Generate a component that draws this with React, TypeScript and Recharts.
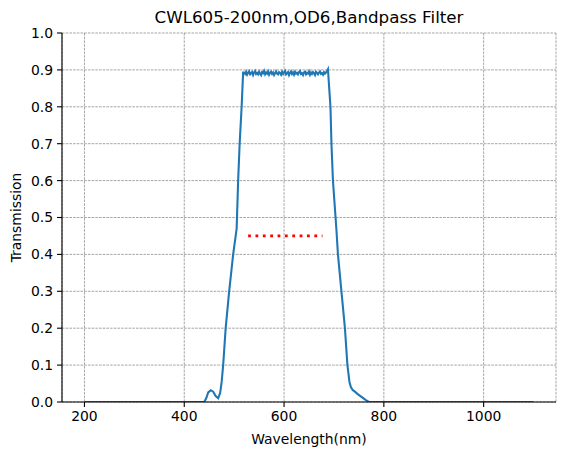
import React from "react";
import { LineChart, Line, XAxis, YAxis, CartesianGrid, Label } from "recharts";

const edgeWavelengths = [200, 440, 444, 448, 453, 458, 463, 468, 472, 475, 478, 483, 490, 498, 505, 508, 511, 515, 518];
const edgeValues = [0, 0, 0.01, 0.026, 0.032, 0.028, 0.016, 0.01, 0.025, 0.055, 0.1, 0.2, 0.3, 0.4, 0.47, 0.6, 0.7, 0.8, 0.893];

const plateauWavelengths = [
  520, 522, 524, 526, 528, 530, 532, 534, 536, 538, 540, 542, 544, 546, 548, 550, 552, 554, 556, 558,
  560, 562, 564, 566, 568, 570, 572, 574, 576, 578, 580, 582, 584, 586, 588, 590, 592, 594, 596, 598,
  600, 602, 604, 606, 608, 610, 612, 614, 616, 618, 620, 622, 624, 626, 628, 630, 632, 634, 636, 638,
  640, 642, 644, 646, 648, 650, 652, 654, 656, 658, 660, 662, 664, 666, 668, 670, 672, 674, 676, 678,
  680, 682, 684, 686, 688,
];
const plateauValues = [
  0.893, 0.889, 0.895, 0.887, 0.892, 0.896, 0.888, 0.891, 0.894, 0.886,
  0.893, 0.897, 0.889, 0.892, 0.888, 0.895, 0.89, 0.886, 0.894, 0.891,
  0.897, 0.888, 0.893, 0.89, 0.896, 0.887, 0.892, 0.895, 0.889, 0.893,
  0.886, 0.891, 0.896, 0.89, 0.888, 0.894, 0.892, 0.887, 0.895, 0.889,
  0.893, 0.897, 0.888, 0.891, 0.894, 0.886, 0.892, 0.896, 0.889, 0.893,
  0.887, 0.895, 0.89, 0.892, 0.888, 0.894, 0.897, 0.889, 0.891, 0.886,
  0.893, 0.895, 0.888, 0.892, 0.89, 0.896, 0.887, 0.893, 0.889, 0.894,
  0.891, 0.886, 0.895, 0.892, 0.888, 0.893, 0.896, 0.889, 0.891, 0.887,
  0.894, 0.89, 0.893, 0.897, 0.902,
];

const fallWavelengths = [690, 693, 695, 698, 705, 708, 715, 722, 727, 731, 734, 738, 742, 747, 753, 758, 764, 770, 1100];
const fallValues = [0.86, 0.8, 0.7, 0.6, 0.466, 0.4, 0.3, 0.2, 0.1, 0.055, 0.04, 0.032, 0.028, 0.022, 0.016, 0.011, 0.005, 0, 0];

const markerWavelengths = [528, 677];
const markerValues = [0.45, 0.45];

const xTicks = [200, 400, 600, 800, 1000];
const yTicks = [0, 0.1, 0.2, 0.3, 0.4, 0.5, 0.6, 0.7, 0.8, 0.9, 1.0];

const allWavelengths = [...edgeWavelengths, ...plateauWavelengths, ...fallWavelengths];
const allValues = [...edgeValues, ...plateauValues, ...fallValues];
const curveData = allWavelengths.map((w, i) => ({ w, t: allValues[i] }));
const markerData = markerWavelengths.map((w, i) => ({ w, t: markerValues[i] }));

const FONT = "'DejaVu Sans', sans-serif";
const tickStyle = { fontFamily: FONT, fontSize: 13.9, fill: "#000" };

const YLabel = () => (
  <text
    x={21}
    y={217.5}
    transform="rotate(-90 21 217.5)"
    textAnchor="middle"
    fontFamily={FONT}
    fontSize={13.9}
    fill="#000"
  >
    Transmission
  </text>
);

export default function App() {
  return (
    <div style={{ position: "absolute", left: 0, top: 0, width: 567, height: 455, background: "#fff" }}>
      <div
        style={{
          position: "absolute",
          left: 62,
          width: 494,
          top: 7,
          textAlign: "center",
          fontFamily: FONT,
          fontSize: 16.7,
          lineHeight: "20px",
          color: "#000",
        }}
      >
        CWL605-200nm,OD6,Bandpass Filter
      </div>
      <LineChart
        width={567}
        height={455}
        data={curveData}
        margin={{ top: 33, right: 11, left: 0, bottom: 0 }}
      >
        <CartesianGrid stroke="#808080" strokeWidth={0.7} strokeDasharray="2.6 1.1" />
        <XAxis
          dataKey="w"
          type="number"
          domain={[155, 1145]}
          ticks={xTicks}
          height={53}
          tickSize={5}
          tickMargin={4}
          tick={tickStyle}
          stroke="#000"
          axisLine={{ stroke: "#000", strokeWidth: 1.1 }}
          tickLine={{ stroke: "#000", strokeWidth: 1.1 }}
          allowDataOverflow
        >
          <Label
            value="Wavelength(nm)"
            position="insideBottom"
            offset={11}
            style={{ fontFamily: FONT, fontSize: 13.9, fill: "#000" }}
          />
        </XAxis>
        <XAxis
          xAxisId="top"
          orientation="top"
          type="number"
          dataKey="w"
          domain={[155, 1145]}
          height={0}
          tick={false}
          tickLine={false}
          axisLine={{ stroke: "#000", strokeWidth: 1.1 }}
        />
        <YAxis
          type="number"
          domain={[0, 1]}
          ticks={yTicks}
          width={62}
          tickSize={5}
          tickMargin={4}
          tick={tickStyle}
          tickFormatter={(v: number) => v.toFixed(1)}
          axisLine={{ stroke: "#000", strokeWidth: 1.1 }}
          tickLine={{ stroke: "#000", strokeWidth: 1.1 }}
          allowDataOverflow
        >
          <Label content={<YLabel />} />
        </YAxis>
        <YAxis
          yAxisId="right"
          orientation="right"
          type="number"
          domain={[0, 1]}
          width={0}
          tick={false}
          tickLine={false}
          axisLine={{ stroke: "#000", strokeWidth: 1.1 }}
        />
        <Line
          dataKey="t"
          type="linear"
          stroke="#1f77b4"
          strokeWidth={2.08}
          dot={false}
          activeDot={false}
          isAnimationActive={false}
        />
        <Line
          data={markerData}
          dataKey="t"
          type="linear"
          stroke="#ff0000"
          strokeWidth={2.78}
          strokeDasharray="2.78 4.58"
          dot={false}
          activeDot={false}
          isAnimationActive={false}
        />
      </LineChart>
    </div>
  );
}
